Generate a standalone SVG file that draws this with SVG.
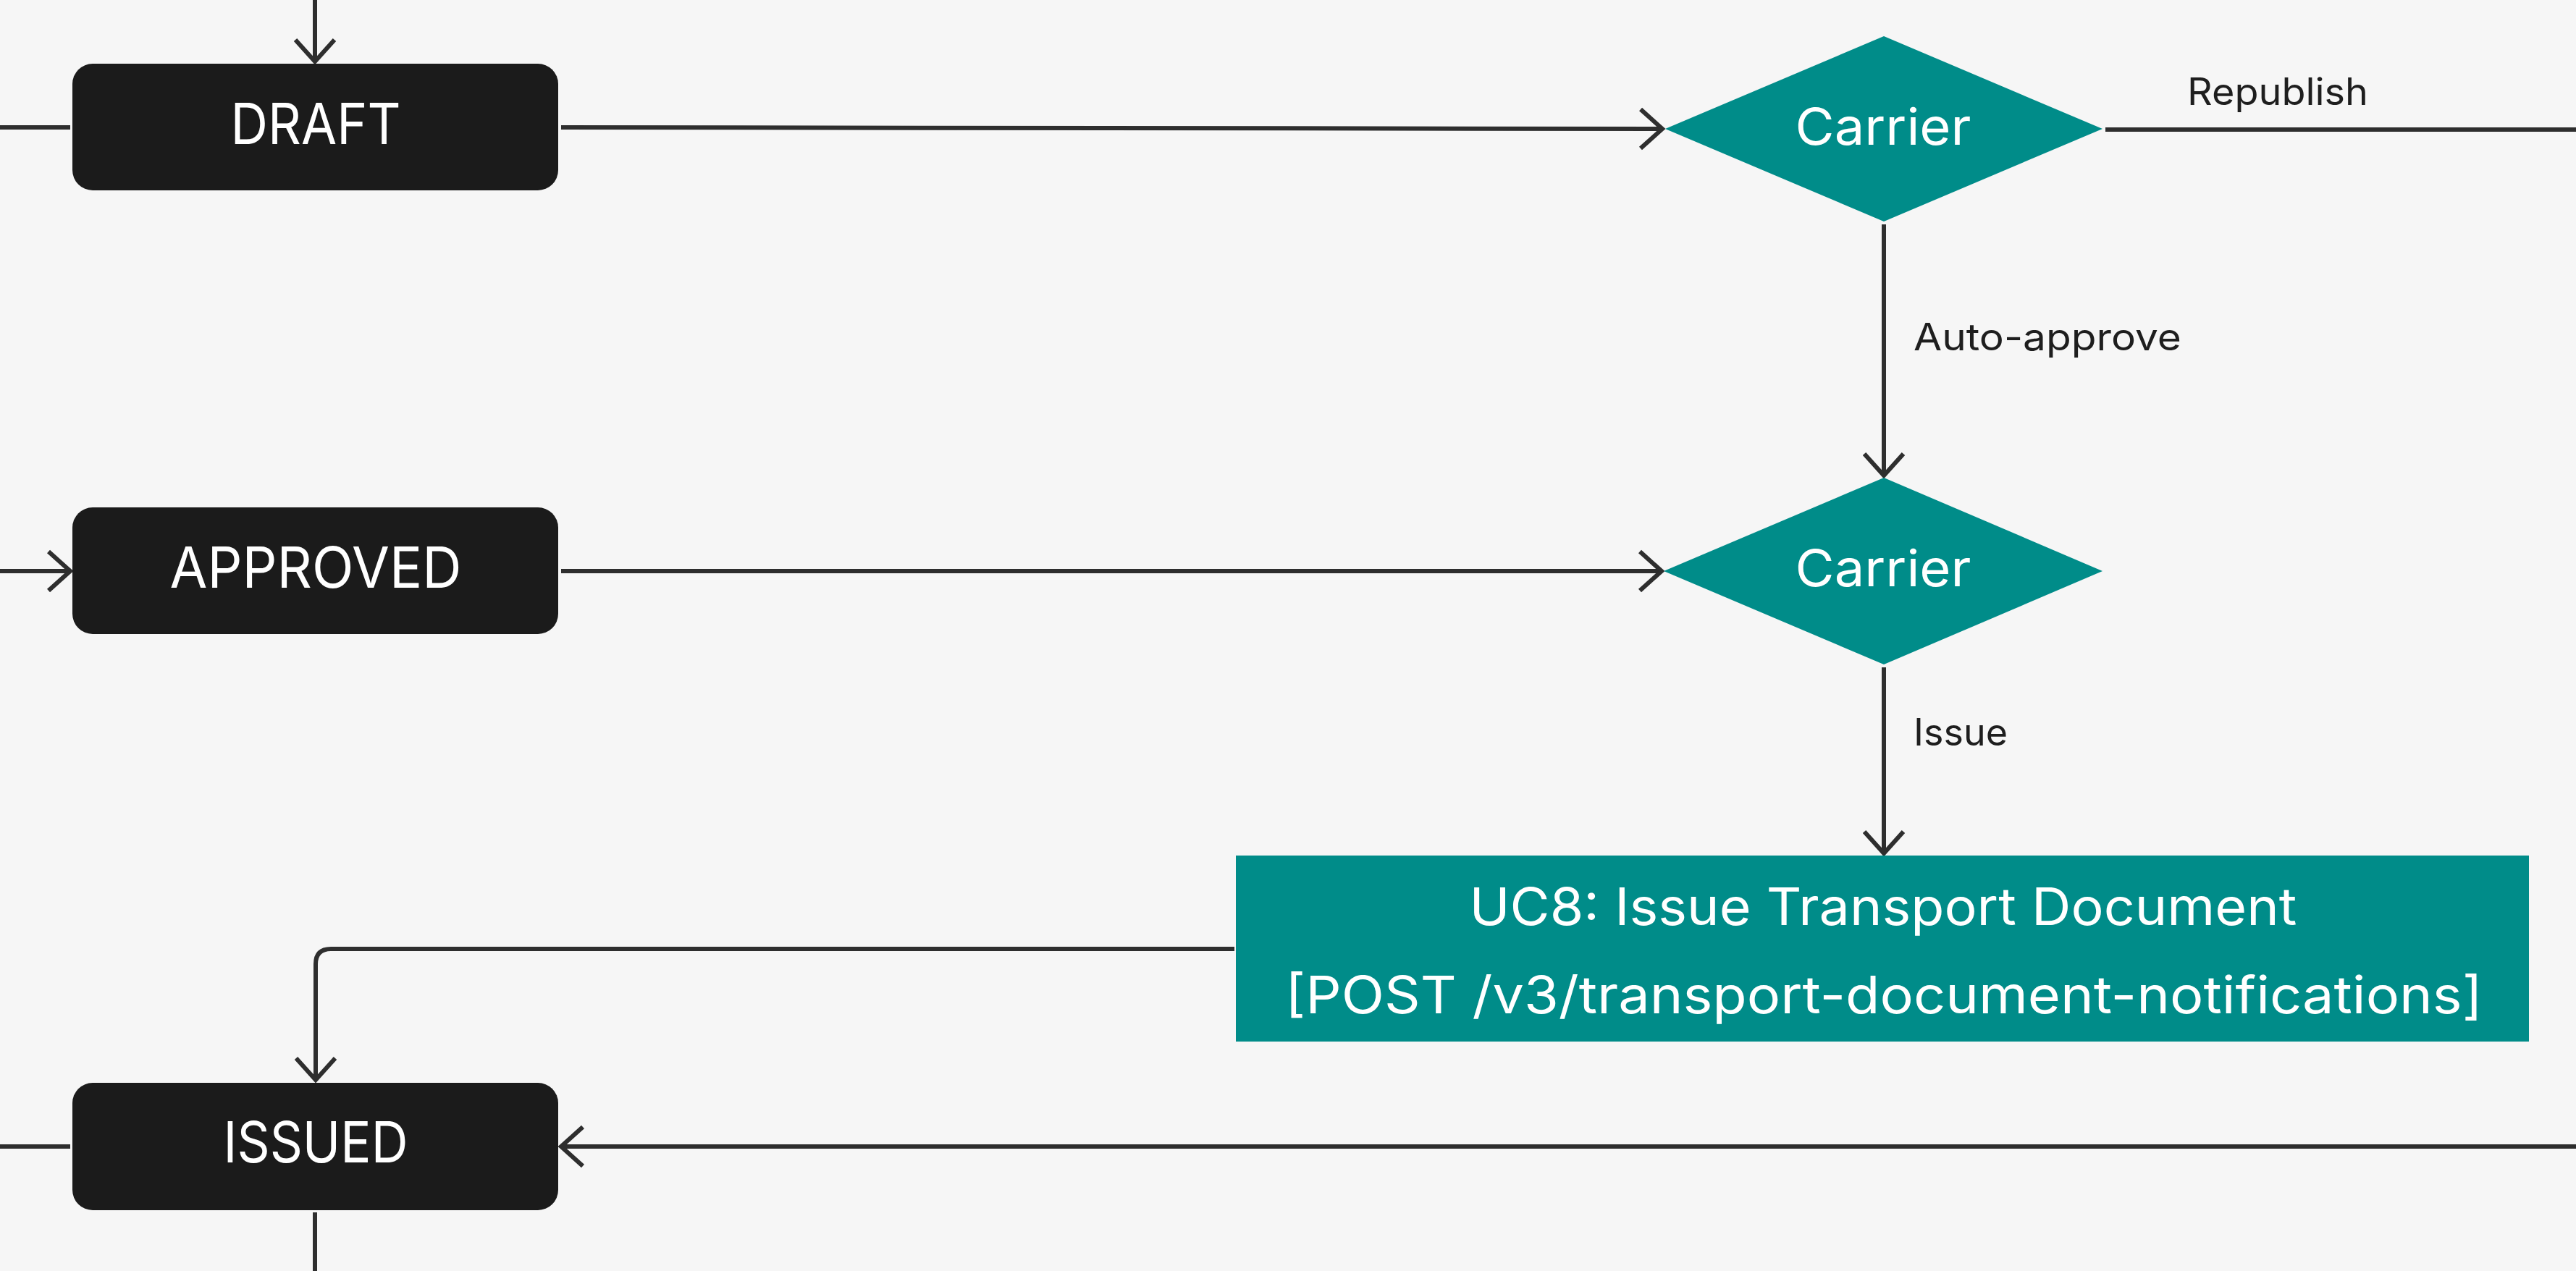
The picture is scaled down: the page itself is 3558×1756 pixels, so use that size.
<svg xmlns="http://www.w3.org/2000/svg" width="3558" height="1756" viewBox="0 0 3558 1756">
<style>
.bg{fill:#f6f6f6}
.state{fill:#1b1b1b}
.teal{fill:#008c89}
.conn{fill:none;stroke:#2e2e2e;stroke-width:6}
.t{font-family:Inter,"Open Sans","Liberation Sans",sans-serif;text-anchor:middle;fill:#ffffff}
.big{font-size:78px}
.mid{font-size:70px}
.uc{font-size:71px}
.lbl{font-family:Inter,"Open Sans","Liberation Sans",sans-serif;font-size:52px;fill:#1e1e1e}
</style>
<defs>
<marker id="arr" markerUnits="userSpaceOnUse" markerWidth="80" markerHeight="80" viewBox="-40 -40 80 80" refX="0" refY="0" orient="auto" overflow="visible">
<path d="M-30,-27 L0,0 L-30,27" fill="none" stroke="#2e2e2e" stroke-width="6"/>
</marker>
</defs>
<rect class="bg" x="0" y="0" width="3558" height="1756"/>
<g id="connectors">
<path class="conn" d="M435,0 V85" marker-end="url(#arr)"/>
<path class="conn" d="M0,176 H97"/>
<path class="conn" d="M775,176 L2296,178" marker-end="url(#arr)"/>
<path class="conn" d="M2908,179 H3558"/>
<path class="conn" d="M2602,310 V657" marker-end="url(#arr)"/>
<path class="conn" d="M0,789 H97" marker-end="url(#arr)"/>
<path class="conn" d="M775,789 H2295" marker-end="url(#arr)"/>
<path class="conn" d="M2602,922 V1179" marker-end="url(#arr)"/>
<path class="conn" d="M1705,1311 H457 Q436,1311 436,1332 V1492" marker-end="url(#arr)"/>
<path class="conn" d="M3558,1584 H775" marker-end="url(#arr)"/>
<path class="conn" d="M0,1584 H97"/>
<path class="conn" d="M435,1675 V1756"/>
</g>
<g id="draft">
<rect class="state" x="100" y="88" width="671" height="175" rx="28" ry="28"/>
<text class="t big" x="436" y="199" textLength="235" lengthAdjust="spacingAndGlyphs">DRAFT</text>
</g>
<g id="approved">
<rect class="state" x="100" y="701" width="671" height="175" rx="28" ry="28"/>
<text class="t big" x="436" y="812" textLength="403" lengthAdjust="spacingAndGlyphs">APPROVED</text>
</g>
<g id="issued">
<rect class="state" x="100" y="1496" width="671" height="176" rx="28" ry="28"/>
<text class="t big" x="436" y="1606" textLength="255" lengthAdjust="spacingAndGlyphs">ISSUED</text>
</g>
<g id="carrier1">
<polygon class="teal" points="2300,178 2602,50 2904,178 2602,306"/>
<text class="t mid" x="2601" y="200" textLength="243" lengthAdjust="spacingAndGlyphs">Carrier</text>
</g>
<g id="carrier2">
<polygon class="teal" points="2298,789 2602,660 2904,789 2602,918"/>
<text class="t mid" x="2601" y="810" textLength="243" lengthAdjust="spacingAndGlyphs">Carrier</text>
</g>
<g id="uc8">
<rect class="teal" x="1707" y="1182" width="1786" height="257"/>
<text class="t uc" x="2601" y="1278" textLength="1143" lengthAdjust="spacingAndGlyphs">UC8: Issue Transport Document</text>
<text class="t uc" x="2602" y="1400" textLength="1654" lengthAdjust="spacingAndGlyphs">[POST /v3/transport-document-notifications]</text>
</g>
<g id="labels">
<text class="lbl" x="3021" y="145" textLength="250" lengthAdjust="spacingAndGlyphs">Republish</text>
<text class="lbl" x="2643" y="484" textLength="370" lengthAdjust="spacingAndGlyphs">Auto-approve</text>
<text class="lbl" x="2643" y="1030" textLength="130" lengthAdjust="spacingAndGlyphs">Issue</text>
</g>
</svg>
